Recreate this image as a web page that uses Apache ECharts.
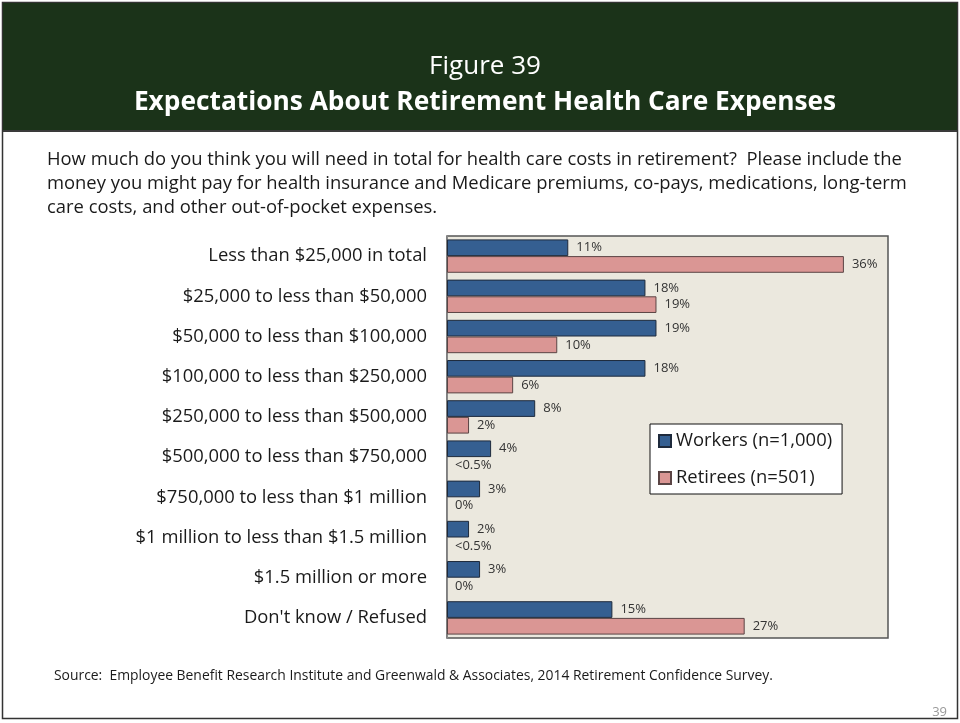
<!DOCTYPE html>
<html>
<head>
<meta charset="utf-8">
<script src="https://cdn.jsdelivr.net/npm/echarts@6/dist/echarts.min.js"></script>
<style>
  html, body { margin: 0; padding: 0; background: #ffffff; }
  #chart { width: 960px; height: 723px; }
</style>
</head>
<body>
<div id="chart"></div>
<script>
// Expected health care cost brackets, top to bottom
const categories = [
  'Less than $25,000 in total',
  '$25,000 to less than $50,000',
  '$50,000 to less than $100,000',
  '$100,000 to less than $250,000',
  '$250,000 to less than $500,000',
  '$500,000 to less than $750,000',
  '$750,000 to less than $1 million',
  '$1 million to less than $1.5 million',
  '$1.5 million or more',
  "Don't know / Refused"
];

// Percent of respondents
const workers = [11, 18, 19, 18, 8, 4, 3, 2, 3, 15];
const retirees = [36, 19, 10, 6, 2, 0, 0, 0, 0, 27];
// Printed labels for the retiree bars (some shares round below 0.5%)
const retireeLabels = ['36%', '19%', '10%', '6%', '2%', '<0.5%', '0%', '<0.5%', '0%', '27%'];

const seriesNames = ['Workers (n=1,000)', 'Retirees (n=501)'];

const figureLabel = 'Figure 39';
const titleText = 'Expectations About Retirement Health Care Expenses';
const questionLines = [
  'How much do you think you will need in total for health care costs in retirement?  Please include the',
  'money you might pay for health insurance and Medicare premiums, co-pays, medications, long-term',
  'care costs, and other out-of-pocket expenses.'
];
const sourceText = 'Source:  Employee Benefit Research Institute and Greenwald & Associates, 2014 Retirement Confidence Survey.';
const pageNumber = '39';

const FONT = '"Open Sans", "Noto Sans", sans-serif';

const chart = echarts.init(document.getElementById('chart'), null, { renderer: 'canvas' });

const labelStyle = {
  show: true,
  position: 'right',
  distance: 8,
  fontFamily: FONT,
  fontSize: 13,
  color: '#333333'
};

// zero-length bars get no outline so nothing shows at the axis
const barItems = (values, fill, border) => values.map(v => ({
  value: v,
  itemStyle: { color: fill, borderColor: border, borderWidth: v > 0 ? 1 : 0 }
}));

chart.setOption({
  animation: false,
  backgroundColor: '#ffffff',
  textStyle: { fontFamily: FONT },
  graphic: [
    // slide frame
    { type: 'rect', shape: { x: 2.5, y: 2.5, width: 955, height: 716 },
      style: { fill: 'none', stroke: '#333333', lineWidth: 1.5 }, z: 0 },
    // header band
    { type: 'rect', shape: { x: 3, y: 3, width: 954, height: 128 },
      style: { fill: '#1B3319' }, z: 1 },
    { type: 'rect', shape: { x: 3, y: 130, width: 954, height: 2 },
      style: { fill: '#3a3a3a' }, z: 1 },
    { type: 'text', x: 485, y: 67, z: 2,
      style: { text: figureLabel, fill: '#ffffff', font: '26px ' + FONT,
               textAlign: 'center', textVerticalAlign: 'middle' } },
    { type: 'text', x: 485, y: 103, z: 2,
      style: { text: titleText, fill: '#ffffff', font: 'bold 26.3px ' + FONT,
               textAlign: 'center', textVerticalAlign: 'middle' } },
    // question text
    ...questionLines.map((line, i) => ({
      type: 'text', x: 47, y: 160 + i * 24, z: 2,
      style: { text: line, fill: '#1a1a1a', font: '18.4px ' + FONT,
               textAlign: 'left', textVerticalAlign: 'middle' }
    })),
    // source note
    { type: 'text', x: 54, y: 676, z: 2,
      style: { text: sourceText, fill: '#1a1a1a', font: '13.9px ' + FONT,
               textAlign: 'left', textVerticalAlign: 'middle' } },
    // page number
    { type: 'text', x: 947, y: 712, z: 2,
      style: { text: pageNumber, fill: '#999999', font: '13px ' + FONT,
               textAlign: 'right', textVerticalAlign: 'middle' } }
  ],
  grid: {
    left: 447, top: 236, width: 441, height: 402,
    show: true,
    backgroundColor: '#EBE8DE',
    borderColor: '#555555',
    borderWidth: 1.5,
    containLabel: false
  },
  legend: {
    orient: 'vertical',
    left: 650, top: 424,
    padding: [8, 10, 7, 8],
    backgroundColor: '#ffffff',
    borderColor: '#111111',
    borderWidth: 1,
    itemWidth: 12, itemHeight: 12,
    itemGap: 19,
    icon: 'rect',
    textStyle: { fontFamily: FONT, fontSize: 18.4, color: '#1a1a1a' },
    data: seriesNames
  },
  xAxis: {
    type: 'value',
    min: 0, max: 40,
    axisLine: { show: false },
    axisTick: { show: false },
    axisLabel: { show: false },
    splitLine: { show: false }
  },
  yAxis: {
    type: 'category',
    data: categories,
    inverse: true,
    axisLine: { show: true, lineStyle: { color: '#888888', width: 1 } },
    axisTick: { show: false },
    axisLabel: {
      margin: 20,
      fontFamily: FONT,
      fontSize: 18.4,
      color: '#1a1a1a'
    }
  },
  series: [
    {
      name: seriesNames[0],
      type: 'bar',
      data: barItems(workers, '#355F91', '#1E2A3C'),
      barGap: '0%',
      barCategoryGap: '17%',
      itemStyle: { color: '#355F91', borderColor: '#1E2A3C', borderWidth: 1 },
      label: Object.assign({}, labelStyle, { formatter: p => p.value + '%' })
    },
    {
      name: seriesNames[1],
      type: 'bar',
      data: barItems(retirees, '#DA9694', '#5A4444'),
      barGap: '0%',
      barCategoryGap: '17%',
      itemStyle: { color: '#DA9694', borderColor: '#5A4444', borderWidth: 1 },
      label: Object.assign({}, labelStyle, { formatter: p => retireeLabels[p.dataIndex] })
    }
  ]
});
</script>
</body>
</html>
